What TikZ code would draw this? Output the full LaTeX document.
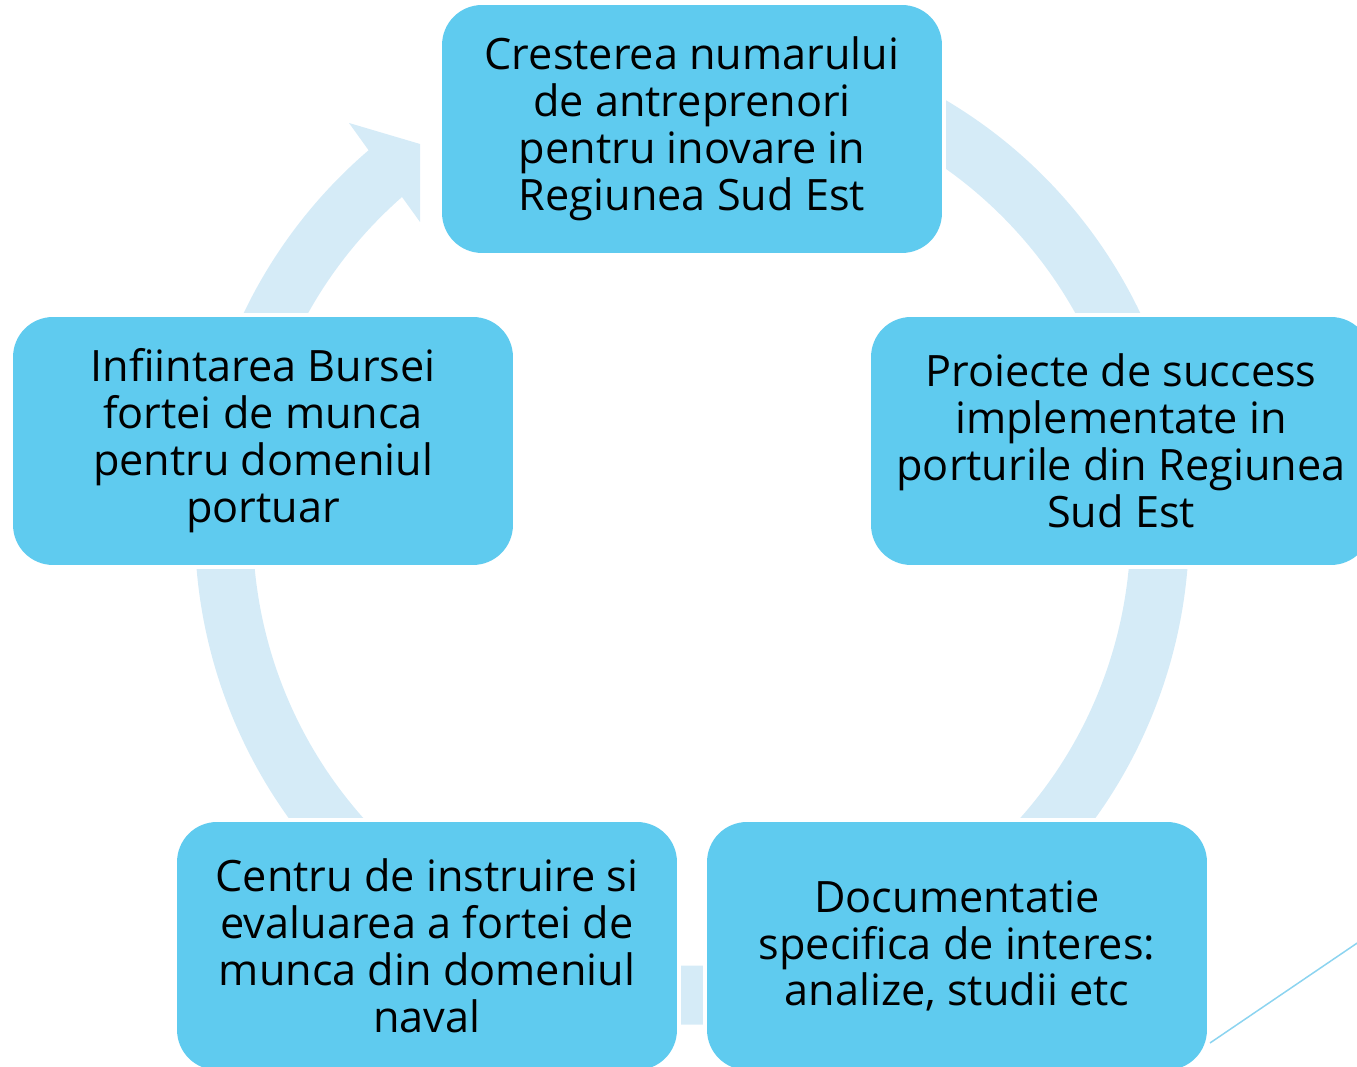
\documentclass[tikz,border=0pt]{standalone}
\usepackage{fontspec}
\setmainfont{Open Sans}
\usetikzlibrary{calc}
\definecolor{boxblue}{RGB}{95,203,239}
\definecolor{ringblue}{RGB}{213,235,247}
\definecolor{slideline}{RGB}{140,212,240}

\begin{document}
\begin{tikzpicture}[x=0.02cm,y=0.02cm,
  cyclebox/.style={rectangle,rounded corners=0.8cm,fill=boxblue,
    preaction={draw=white,line width=0.16cm},
    minimum width=10cm,minimum height=4.96cm,inner sep=0pt,align=center,
    font=\fontsize{24.6}{26.7}\selectfont}]
\useasboundingbox (0,0) rectangle (1357,1067);
\clip (0,0) rectangle (1357,1067);
\coordinate (c) at (692,539.4);
% ring behind the boxes, ending in the arrow head on the left
\fill[ringblue] ($(c)+(70:497)$) arc[start angle=70,end angle=-229.4,radius=497]
  -- (349,944) -- (420,923) -- (420,845) -- (402,870)
  arc[start angle=-228.7,end angle=70,radius=439] -- cycle;
\node[cyclebox] (crestere) at (692,938) {Cresterea numarului\\de antreprenori\\pentru inovare in\\Regiunea Sud Est};
\node[cyclebox] (proiecte) at (1121,626) {Proiecte de success\\implementate in\\porturile din Regiunea\\Sud Est};
\node[cyclebox] (documentatie) at (957,121) {Documentatie\\specifica de interes:\\analize, studii etc};
\node[cyclebox] (centru) at (427,121) {Centru de instruire si\\evaluarea a fortei de\\munca din domeniul\\naval};
\node[cyclebox] (bursa) at (263,626) {Infiintarea Bursei\\fortei de munca\\pentru domeniul\\portuar};
% thin slide line at the lower right
\coordinate (lineA) at (1210,24);
\coordinate (lineB) at (1400,153);
\draw[slideline,line width=0.03cm] (lineA) -- (lineB);
\end{tikzpicture}
\end{document}
